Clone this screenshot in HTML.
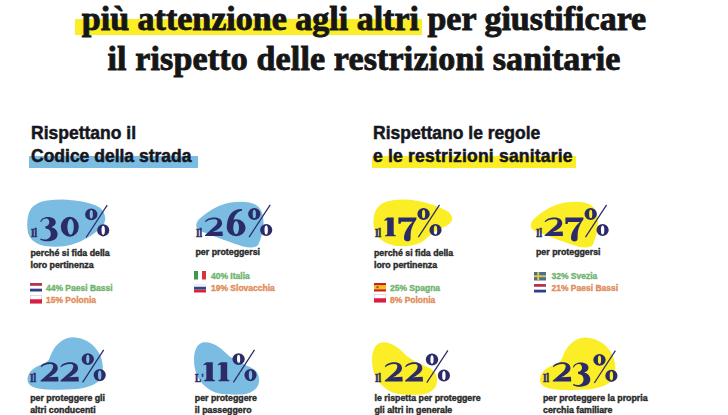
<!DOCTYPE html>
<html><head><meta charset="utf-8">
<style>
*{margin:0;padding:0;box-sizing:border-box}
html,body{width:728px;height:415px;overflow:hidden;background:#fff}
body{position:relative;font-family:"Liberation Sans",sans-serif}
.abs{position:absolute}
.t{position:absolute;font-family:"Liberation Serif",serif;font-weight:bold;font-size:34px;line-height:40px;color:#161616;white-space:nowrap;left:0;width:728px;text-align:center;-webkit-text-stroke:0.9px #161616}
.hl{position:absolute}
.h{position:absolute;font-family:"Liberation Sans",sans-serif;font-weight:bold;font-size:17.5px;line-height:23px;color:#16161e;white-space:nowrap;-webkit-text-stroke:0.5px #16161e}
.b{position:absolute;font-family:"Liberation Sans",sans-serif;font-weight:bold;font-size:8.8px;line-height:12px;color:#2a2a2a;white-space:nowrap;-webkit-text-stroke:0.4px #2a2a2a}
.l{position:absolute;font-family:"Liberation Sans",sans-serif;font-weight:bold;font-size:8.5px;line-height:12px;white-space:nowrap;-webkit-text-stroke:0.35px currentColor}
.g{color:#70b370}.o{color:#df8d5b}
.il{position:absolute;font-family:"Liberation Serif",serif;font-weight:bold;font-size:11.5px;line-height:11.5px;color:#2c2b6a;white-space:nowrap;-webkit-text-stroke:0.55px #2c2b6a;transform:scaleX(0.8);transform-origin:0 0}
.n{position:absolute;font-family:"Liberation Serif",serif;font-weight:bold;font-size:31px;line-height:31px;color:#2c2b6a;white-space:nowrap;transform-origin:0 5px;-webkit-text-stroke:0.4px #2c2b6a}
svg{position:absolute;overflow:visible}
.flag{position:absolute;width:12px;height:8.5px}
</style></head><body>

<!-- title highlight -->
<div class="hl" style="left:75.3px;top:19.4px;width:347.2px;height:15.9px;background:#fbed26"></div>
<div class="t" style="top:-1px">più attenzione agli altri per giustificare</div>
<div class="t" style="top:38.5px;letter-spacing:0.15px">il rispetto delle restrizioni sanitarie</div>

<!-- headings -->
<div class="hl" style="left:29.3px;top:156px;width:169px;height:11.6px;background:#7bbde2"></div>
<div class="h" style="left:31px;top:122px">Rispettano il<br>Codice della strada</div>
<div class="hl" style="left:372px;top:156px;width:204px;height:12px;background:#fbed26"></div>
<div class="h" style="left:373px;top:122px">Rispettano le regole<br><span style="letter-spacing:0.2px">e le restrizioni sanitarie</span></div>

<!-- blobs -->
<svg width="728" height="415" style="left:0;top:0">
  <path fill="#7bbde2" d="M62,199.5 C75,199.8 90,202.5 98,206.5 C103,209.5 105.2,214 105.2,219 C105.2,224 101,228.5 96,232 C90,236.5 82,241.5 72,244.5 C64,247 54,247.2 45,246 C37,244.5 30.5,240.5 28.2,233.5 C26.5,226 27,216 30,210.5 C33,205 39,201.8 47,200.5 C52,199.8 57,199.5 62,199.5 Z"/>
  <path fill="#7bbde2" d="M241,201.8 C249,201.8 256,203.5 259.5,208 C262.5,212 263.8,218 263.5,224 C263,231 261,240 258,245 C255.5,248 250,248 243,246.5 C232,243 215,236.5 203,232 C197.5,230 195.8,227.5 196.3,224.5 C197,221 199,219 201,217.5 C207,212.5 212,209 220,205.5 C227,202.8 234,201.8 241,201.8 Z"/>
  <path fill="#fbed26" d="M405,199.4 C418,199.8 432,204 442,208.5 C449,211.5 452.2,215 452.2,218.5 C452.2,222.5 448,225.5 442,228 C436,230.5 430,235 424.5,240 C420,244 412,246.2 402,246.3 C392,246.3 383,242.5 378.5,237.5 C374.5,233 373.2,226 373.5,220 C374,212 377,206.5 383,203 C390,199.8 397,199.3 405,199.4 Z"/>
  <path fill="#fbed26" d="M575.5,201.8 C583.5,201.8 590.5,203.5 594.0,208.0 C597.0,212.0 598.3,218.0 598.0,224.0 C597.5,231.0 595.5,240.0 592.5,245.0 C590.0,248.0 584.5,248.0 577.5,246.5 C566.5,243.0 549.5,236.5 537.5,232.0 C532.0,230.0 530.3,227.5 530.8,224.5 C531.5,221.0 533.5,219.0 535.5,217.5 C541.5,212.5 546.5,209.0 554.5,205.5 C561.5,202.8 568.5,201.8 575.5,201.8 Z"/>
  <path fill="#7bbde2" d="M73,337.3 C84,337.6 94,344 99,353 C103,360 104,370 101.6,377 C99,383 91,386.5 82,388.3 C72,390 58,389.8 47,389.4 C37,389 30,387 28,382.5 C26.5,377.5 28.5,371.5 36,367 C42,364 47.5,362.5 49,359.5 C51.5,353 54,347 58.5,343.5 C63,339.5 67,337.5 73,337.3 Z"/>
  <path fill="#7bbde2" d="M204,342.2 C214,341.5 222,349 227,354 C233,360 242,363.5 250,367 C257,370 259.8,376 259,382 C258.2,388.5 252,394.3 240,394.6 C230,394.8 220,394.6 213,391.5 C205,387.5 199,381 196.5,374 C194.3,368 193.8,363 194.1,357 C194.6,349 198,342.8 204,342.2 Z"/>
  <path fill="#fbed26" d="M382.0,342.4 C392.0,341.7 400.0,349.2 405.0,354.2 C411.0,360.2 420.0,363.7 428.0,367.2 C435.0,370.2 437.8,376.2 437.0,382.2 C436.2,388.7 430.0,394.5 418.0,394.8 C408.0,395.0 398.0,394.8 391.0,391.7 C383.0,387.7 377.0,381.2 374.5,374.2 C372.3,368.2 371.8,363.2 372.1,357.2 C372.6,349.2 376.0,343.0 382.0,342.4 Z"/>
  <path fill="#fbed26" d="M585.5,337.6 C596.5,337.9 606.5,344.3 611.5,353.3 C615.5,360.3 616.5,370.3 614.1,377.3 C611.5,383.3 603.5,386.8 594.5,388.6 C584.5,390.3 570.5,390.1 559.5,389.7 C549.5,389.3 542.5,387.3 540.5,382.8 C539.0,377.8 541.0,371.8 548.5,367.3 C554.5,364.3 560.0,362.8 561.5,359.8 C564.0,353.3 566.5,347.3 571.0,343.8 C575.5,339.8 579.5,337.8 585.5,337.6 Z"/>
</svg>

<!-- numbers -->
<div class="il" style="left:30.5px;top:228px">Il</div>
<div class="il" style="left:195.5px;top:228px">Il</div>
<div class="il" style="left:374.5px;top:228px">Il</div>
<div class="il" style="left:536px;top:228px">Il</div>
<div class="il" style="left:30.2px;top:373px">Il</div>
<div class="il" style="left:194.8px;top:373px">L'</div>
<div class="il" style="left:374.8px;top:373px">Il</div>
<div class="il" style="left:543px;top:373px">Il</div>
<svg width="728" height="415" style="left:0;top:0" fill="#2c2b6a"><path d="M40.2,221.8 C41,218.5 44.5,217 48,217 C53,217 55.8,219.3 55.8,222.3 C55.8,224.8 53.8,226.3 51.5,227.2 C55.5,228.3 57.6,231 57.6,234.2 C57.6,238.5 53.5,241.3 47.5,241.3 C44,241.3 41.5,240.5 40.2,239.5 L40.6,238.6 C42,239.3 43.6,239.6 45,239.6 C48.8,239.6 50.8,237 50.8,233.8 C50.8,230.7 49,228.6 45.5,228.5 L45.2,226.4 C47.8,226.2 49.3,224.6 49.3,222.3 C49.3,219.9 48,218.5 46.3,218.5 C44,218.4 42,219.8 41.2,222 Z"/><path d="M572.9,367.2 C573.7,363.9 577.2,362.4 580.7,362.4 C585.7,362.4 588.5,364.7 588.5,367.7 C588.5,370.2 586.5,371.7 584.2,372.6 C588.2,373.7 590.3,376.4 590.3,379.6 C590.3,383.9 586.2,386.7 580.2,386.7 C576.7,386.7 574.2,385.9 572.9,384.9 L573.3,384.0 C574.7,384.7 576.3,385.0 577.7,385.0 C581.5,385.0 583.5,382.4 583.5,379.2 C583.5,376.1 581.7,374.0 578.2,373.9 L577.9,371.8 C580.5,371.6 582.0,370.0 582.0,367.7 C582.0,365.3 580.7,363.9 579.0,363.9 C576.7,363.8 574.7,365.2 573.9,367.4 Z"/></svg>
<svg width="728" height="415" style="left:0;top:0"><path fill="#2c2b6a" fill-rule="evenodd" d="M60.8,226.8 A9.0,10.0 0 1,0 78.8,226.8 A9.0,10.0 0 1,0 60.8,226.8 Z M67.4,226.9 A3.2,7.9 0 1,0 73.8,226.9 A3.2,7.9 0 1,0 67.4,226.9 Z"/></svg>
<svg width="728" height="415" style="left:0;top:0" fill="#2c2b6a"><path fill-rule="evenodd" d="M226.79999999999998,227.8 A9.4,8.5 0 1,0 245.6,227.8 A9.4,8.5 0 1,0 226.79999999999998,227.8 Z M233.2,227.6 A2.9,6.6 0 1,0 239.0,227.6 A2.9,6.6 0 1,0 233.2,227.6 Z"/><path d="M226.8,228.5 C226.6,219 230,212.2 236,210 C238.5,209.1 240.5,208.9 242.2,209.3 L241.8,210.7 C238,211.2 234.6,214.5 233.3,221 L233.1,228.5 Z"/></svg>
<svg width="728" height="415" style="left:0;top:0" fill="#2c2b6a"><path d="M398.4,217.4 L416.4,217.4 L416.4,219.5 C414,222.5 411.6,227 410.9,231.5 C410.4,235 410.9,238.5 410.3,240 C409.6,241.7 405,241.9 404.2,239.5 C403.5,237 404.5,233.5 406,230.5 C407.8,227 410.5,224 412.8,221.8 L401.2,221.8 C400.9,222.6 400.7,223.3 400.6,223.8 L398.4,223.8 Z"/><path d="M565.4,217.5 L583.4,217.5 L583.4,219.6 C581.0,222.6 578.6,227.1 577.9,231.6 C577.4,235.1 577.9,238.6 577.3,240.1 C576.6,241.8 572.0,242.0 571.2,239.6 C570.5,237.1 571.5,233.6 573.0,230.6 C574.8,227.1 577.5,224.1 579.8,221.9 L568.2,221.9 C567.9,222.7 567.7,223.4 567.6,223.9 L565.4,223.9 Z"/></svg>



<svg width="728" height="415" style="left:0;top:0" fill="#2c2b6a">
  <defs><path id="d2" d="M0.2,-14.7 C1.4,-17.5 4.9,-19.1 9.3,-19.1 C13.9,-19.1 16.4,-16.7 16.4,-13 C16.4,-10 13.5,-7.5 10,-5.3 L7.6,-4.1 L16.8,-4.7 L17.1,0 L0.2,0 L0.2,-0.9 C3.3,-4 7.9,-8 10.6,-11 C11.8,-12.5 12.2,-14.3 11.9,-16 C11.4,-17 10.2,-17.3 8.9,-17.3 C5.4,-17.3 2.6,-16 0.6,-14.1 Z"/></defs>
  <use href="#d2" transform="translate(204.7,236) scale(1.06,0.97)"/>
  <use href="#d2" transform="translate(544.4,236) scale(1.09,0.97)"/>
  <use href="#d2" transform="translate(40.4,381.5) scale(1.06,1.01)"/>
  <use href="#d2" transform="translate(60.2,381.5) scale(1.09,1.01)"/>
  <use href="#d2" transform="translate(384.6,381.5) scale(1.06,1.01)"/>
  <use href="#d2" transform="translate(404.9,381.5) scale(1.06,1.01)"/>
  <use href="#d2" transform="translate(552.6,381.5) scale(1.09,1.01)"/>
</svg>
<svg width="728" height="415" style="left:0;top:0" fill="#2c2b6a">
  <defs><path id="d1" d="M0,-19.3 L6.5,-19.3 L6.5,-3 C6.6,-1.6 7.5,-1.2 8.7,-1.1 L8.7,0 L-2.2,0 L-2.2,-1.1 C-1,-1.2 -0.1,-1.6 0,-3 L0,-16.6 L-2.9,-16.1 L-2.9,-16.9 Z"/></defs>
  <use href="#d1" transform="translate(387.2,236.3) scale(1,0.97)"/>
  <use href="#d1" transform="translate(206.3,381.3) scale(1,0.99)"/>
  <use href="#d1" transform="translate(220.7,381.3) scale(1,0.99)"/>
</svg>
<!-- percent signs -->
<svg width="728" height="415" style="left:0;top:0" fill="#2c2b6a">
  <defs>
    <g id="pc">
      <path fill-rule="evenodd" d="M0.0,5.8 A6.2,5.9 0 1,0 12.4,5.8 A6.2,5.9 0 1,0 0.0,5.8 Z M4.6,5.8 A1.6,4.3 0 1,0 7.800000000000001,5.8 A1.6,4.3 0 1,0 4.6,5.8 Z"/>
      <path fill-rule="evenodd" d="M12.000000000000002,21.8 A6.1,6.1 0 1,0 24.200000000000003,21.8 A6.1,6.1 0 1,0 12.000000000000002,21.8 Z M16.400000000000002,21.8 A1.7,4.6 0 1,0 19.8,21.8 A1.7,4.6 0 1,0 16.400000000000002,21.8 Z"/>
      <line x1="22.1" y1="-3.4" x2="1" y2="29" stroke="#2c2b6a" stroke-width="1.25"/>
    </g>
  </defs>
  <use href="#pc" x="85.1" y="208.5"/>
  <use href="#pc" x="248.1" y="208.2"/>
  <use href="#pc" x="417.4" y="208.2"/>
  <use href="#pc" x="584.5" y="208.2"/>
  <use href="#pc" x="81.6" y="353.3"/>
  <use href="#pc" x="232.4" y="353.3"/>
  <use href="#pc" x="425.8" y="353.7"/>
  <use href="#pc" x="593.3" y="354"/>
</svg>

<!-- row 1 body -->
<div class="b" style="left:30.5px;top:246.5px">perché si fida della<br>loro pertinenza</div>
<div class="b" style="left:195.5px;top:246px">per proteggersi</div>
<div class="b" style="left:374px;top:246.5px">perché si fida della<br>loro pertinenza</div>
<div class="b" style="left:536px;top:246px">per proteggersi</div>

<!-- row 2 body -->
<div class="b" style="left:30.2px;top:392px">per proteggere gli<br>altri conducenti</div>
<div class="b" style="left:194.8px;top:392px">per proteggere<br>il passeggero</div>
<div class="b" style="left:374.5px;top:392px">le rispetta per proteggere<br>gli altri in generale</div>
<div class="b" style="left:543px;top:392px">per proteggere la propria<br>cerchia familiare</div>

<!-- flags + labels -->
<!-- col1 -->
<svg class="flag" style="left:29.8px;top:283px" viewBox="0 0 12 8.5" preserveAspectRatio="none"><rect width="12" height="2.8" fill="#b4364a"/><rect y="5.7" width="12" height="2.8" fill="#2f3f8c"/></svg>
<svg class="flag" style="left:29.8px;top:295.2px" viewBox="0 0 12 8.5" preserveAspectRatio="none"><rect x="0.3" y="0.3" width="11.4" height="7.9" fill="#fff" stroke="#ccc" stroke-width="0.6"/><rect y="4.25" width="12" height="4.25" fill="#dc1c44"/></svg>
<div class="l g" style="left:46px;top:282px">44% Paesi Bassi</div>
<div class="l o" style="left:46px;top:294px">15% Polonia</div>
<!-- col2 -->
<svg class="flag" style="left:194px;top:271.3px" viewBox="0 0 12 8.5" preserveAspectRatio="none"><rect width="4" height="8.5" fill="#3a9a4c"/><rect x="8" width="4" height="8.5" fill="#d2363e"/></svg>
<svg class="flag" style="left:194px;top:283.5px" viewBox="0 0 12 8.5" preserveAspectRatio="none"><rect width="12" height="2.8" fill="#eee"/><rect y="2.8" width="12" height="2.9" fill="#2f4494"/><rect y="5.7" width="12" height="2.8" fill="#d3283a"/></svg>
<div class="l g" style="left:211px;top:270px">40% Italia</div>
<div class="l o" style="left:211px;top:282px">19% Slovacchia</div>
<!-- col3 -->
<svg class="flag" style="left:373.5px;top:282.6px" viewBox="0 0 12 8.5" preserveAspectRatio="none"><rect width="12" height="8.5" fill="#c8202a"/><rect y="2.1" width="12" height="4.3" fill="#f3c11a"/><rect x="2.5" y="3.2" width="2" height="2" fill="#b23a2a"/></svg>
<svg class="flag" style="left:373.5px;top:294.2px" viewBox="0 0 12 8.5" preserveAspectRatio="none"><rect x="0.3" y="0.3" width="11.4" height="7.9" fill="#fff" stroke="#ccc" stroke-width="0.6"/><rect y="4.25" width="12" height="4.25" fill="#dc1c44"/></svg>
<div class="l g" style="left:390px;top:282px">25% Spagna</div>
<div class="l o" style="left:390px;top:294px">8% Polonia</div>
<!-- col4 -->
<svg class="flag" style="left:534.3px;top:272px" viewBox="0 0 12 8.5" preserveAspectRatio="none"><rect width="12" height="8.5" fill="#46709a"/><rect x="3.3" width="1.9" height="8.5" fill="#e8c53a"/><rect y="3.3" width="12" height="1.9" fill="#e8c53a"/></svg>
<svg class="flag" style="left:534.3px;top:283.6px" viewBox="0 0 12 8.5" preserveAspectRatio="none"><rect width="12" height="2.8" fill="#b4364a"/><rect y="5.7" width="12" height="2.8" fill="#2f3f8c"/></svg>
<div class="l g" style="left:551.5px;top:270px">32% Svezia</div>
<div class="l o" style="left:551.5px;top:282px">21% Paesi Bassi</div>

</body></html>
